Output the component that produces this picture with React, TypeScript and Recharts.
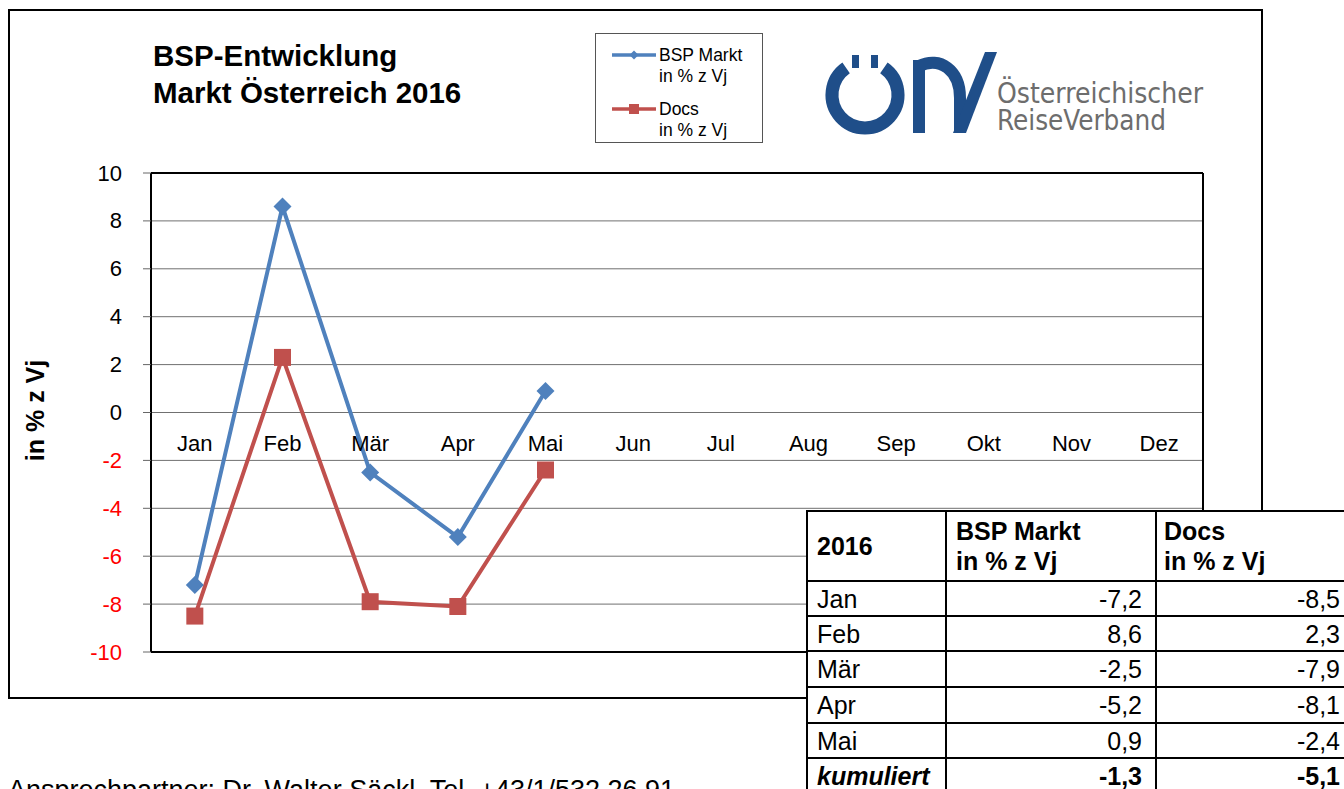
import React from 'react';
import { LineChart, Line, XAxis, YAxis, CartesianGrid, ReferenceLine, Legend } from 'recharts';

const months = ['Jan', 'Feb', 'Mär', 'Apr', 'Mai', 'Jun', 'Jul', 'Aug', 'Sep', 'Okt', 'Nov', 'Dez'];
const bspMarkt: (number | null)[] = [-7.2, 8.6, -2.5, -5.2, 0.9, null, null, null, null, null, null, null];
const docs: (number | null)[] = [-8.5, 2.3, -7.9, -8.1, -2.4, null, null, null, null, null, null, null];
const yTicks = [-10, -8, -6, -4, -2, 0, 2, 4, 6, 8, 10];
const seriesNames = ['BSP Markt', 'Docs'];
const unitLabel = 'in % z Vj';
const kumuliertLabel = 'kumuliert';
const kumuliertValues = [-1.3, -5.1];
const tableYear = '2016';
const titleLines = ['BSP-Entwicklung', 'Markt Österreich 2016'];
const footerText = 'Ansprechpartner: Dr. Walter Säckl, Tel. +43/1/532 26 91';
const logoLines = ['Österreichischer', 'ReiseVerband'];

const data = months.map((m, i) => ({ month: m, bsp: bspMarkt[i], docs: docs[i] }));

const FONT = 'Arial, "Liberation Sans", sans-serif';
const BLUE = '#4F81BD';
const RED = '#C0504D';
const LOGO_BLUE = '#1F4E89';

const CHART_W = 1262;
const CHART_H = 700;
const M_TOP = 173;
const M_BOTTOM = 18;
const X_H = 30;
const Y_W = 151;
const M_RIGHT = 58;
const R_AXIS_W = 1;
const PLOT_H = CHART_H - M_TOP - M_BOTTOM - X_H;
const PLOT_W = CHART_W - Y_W - M_RIGHT - R_AXIS_W;
const ZERO_Y = M_TOP + PLOT_H / 2;
const X_PAD = PLOT_W / months.length / 2;

const fmt = (v: number) => v.toFixed(1).replace('.', ',');

const Diamond = (p: any) => {
  const { cx, cy } = p;
  if (cx == null || cy == null || p.value == null) return <g key={p.index} />;
  const r = 9;
  return <path key={p.index} d={`M${cx},${cy - r}L${cx + r},${cy}L${cx},${cy + r}L${cx - r},${cy}Z`} fill={BLUE} />;
};

const Square = (p: any) => {
  const { cx, cy } = p;
  if (cx == null || cy == null || p.value == null) return <g key={p.index} />;
  const s = 8.5;
  return <rect key={p.index} x={cx - s} y={cy - s} width={s * 2} height={s * 2} fill={RED} />;
};

const YTick = (p: any) => {
  const v = p.payload.value;
  return (
    <text x={p.x} y={p.y} textAnchor="end" dominantBaseline="central" fontFamily={FONT} fontSize={22} fill={v < 0 ? '#FF0000' : '#000'}>
      {String(v)}
    </text>
  );
};

const XTick = (p: any) => (
  <text x={p.x} y={ZERO_Y + 31} textAnchor="middle" dominantBaseline="central" fontFamily={FONT} fontSize={22} fill="#000">
    {p.payload.value}
  </text>
);

const YLabel = (p: any) => {
  const vb = p.viewBox || { x: 0, y: M_TOP, width: Y_W, height: PLOT_H };
  const cx = vb.x + 35;
  const cy = vb.y + vb.height / 2 - 2;
  return (
    <text x={cx} y={cy} transform={`rotate(-90 ${cx} ${cy})`} textAnchor="middle" dominantBaseline="central" fontFamily={FONT} fontSize={25} fontWeight="bold" fill="#000">
      {unitLabel}
    </text>
  );
};

const LegendContent = (props: any) => {
  const payload = props.payload || [];
  return (
    <div style={{ width: 168, height: 110, border: '1px solid #555', background: '#fff', boxSizing: 'border-box' }}>
      <svg width={166} height={108}>
        {payload.map((e: any, i: number) => {
          const y = 21 + i * 54;
          const isBsp = e.dataKey === 'bsp';
          return (
            <g key={i}>
              <line x1={16} x2={60} y1={y} y2={y} stroke={e.color} strokeWidth={3.5} />
              {isBsp ? (
                <path d={`M38,${y - 4.5}L42.5,${y}L38,${y + 4.5}L33.5,${y}Z`} fill={e.color} />
              ) : (
                <rect x={33} y={y - 5} width={10} height={10} fill={e.color} />
              )}
              <text x={63} y={y} dominantBaseline="central" fontFamily={FONT} fontSize={17.5} fill="#000">{e.value}</text>
              <text x={63} y={y + 21} dominantBaseline="central" fontFamily={FONT} fontSize={17.5} fill="#000">{unitLabel}</text>
            </g>
          );
        })}
      </svg>
    </div>
  );
};

const Logo = () => (
  <svg width={420} height={100} style={{ position: 'absolute', left: 800, top: 40 }}>
    {/* ring with gap at top (Ö) */}
    <path d="M 46.1 27.9 A 33 33 0 1 0 83.9 27.9" fill="none" stroke={LOGO_BLUE} strokeWidth={13} />
    <rect x={52} y={15} width={7} height={13} fill={LOGO_BLUE} />
    <rect x={71} y={15} width={7} height={13} fill={LOGO_BLUE} />
    {/* R stem and bowl */}
    <path d="M 119 93 L 119 20" fill="none" stroke={LOGO_BLUE} strokeWidth={12} />
    <path d="M 119 26 C 140 16 160 30 160 58 L 160 93" fill="none" stroke={LOGO_BLUE} strokeWidth={12} />
    {/* V diagonal */}
    <path d="M 153 93 L 166 93 L 197 12 L 185 12 Z" fill={LOGO_BLUE} />
    <text x={197} y={63} fontFamily='"DejaVu Sans Condensed", "DejaVu Sans", sans-serif' fontSize={28} fill="#6d6d6d" textLength={206} lengthAdjust="spacingAndGlyphs">{logoLines[0]}</text>
    <text x={197} y={90} fontFamily='"DejaVu Sans Condensed", "DejaVu Sans", sans-serif' fontSize={28} fill="#6d6d6d" textLength={169} lengthAdjust="spacingAndGlyphs">{logoLines[1]}</text>
  </svg>
);

const TFS = 25;
const cellBase: React.CSSProperties = {
  border: '2px solid #000',
  fontFamily: FONT,
  fontSize: TFS,
  padding: 0,
  lineHeight: '30px',
  whiteSpace: 'nowrap',
  overflow: 'hidden',
};

const rowHeights = [35, 35, 36, 36, 35];

const DataTable = () => {
  const rows = months
    .map((m, i) => ({ m, a: bspMarkt[i], b: docs[i] }))
    .filter((r) => r.a != null && r.b != null);
  return (
    <table style={{ position: 'absolute', left: 806, top: 510, borderCollapse: 'collapse', background: '#fff', tableLayout: 'fixed', width: 560 }}>
      <colgroup>
        <col style={{ width: 139 }} />
        <col style={{ width: 210 }} />
        <col style={{ width: 211 }} />
      </colgroup>
      <tbody>
        <tr style={{ height: 70 }}>
          <td style={{ ...cellBase, fontWeight: 'bold', paddingLeft: 9 }}>{tableYear}</td>
          <td style={{ ...cellBase, fontWeight: 'bold', paddingLeft: 9, verticalAlign: 'middle' }}>
            {seriesNames[0]}<br />{unitLabel}
          </td>
          <td style={{ ...cellBase, fontWeight: 'bold', paddingLeft: 7, verticalAlign: 'middle' }}>
            {seriesNames[1]}<br />{unitLabel}
          </td>
        </tr>
        {rows.map((r, i) => (
          <tr key={r.m} style={{ height: rowHeights[i] || 35 }}>
            <td style={{ ...cellBase, paddingLeft: 9 }}>{r.m}</td>
            <td style={{ ...cellBase, textAlign: 'right', paddingRight: 13 }}>{fmt(r.a as number)}</td>
            <td style={{ ...cellBase, textAlign: 'right', paddingRight: 26 }}>{fmt(r.b as number)}</td>
          </tr>
        ))}
        <tr style={{ height: 36 }}>
          <td style={{ ...cellBase, paddingLeft: 9, fontWeight: 'bold', fontStyle: 'italic' }}>{kumuliertLabel}</td>
          <td style={{ ...cellBase, textAlign: 'right', paddingRight: 13, fontWeight: 'bold' }}>{fmt(kumuliertValues[0])}</td>
          <td style={{ ...cellBase, textAlign: 'right', paddingRight: 26, fontWeight: 'bold' }}>{fmt(kumuliertValues[1])}</td>
        </tr>
      </tbody>
    </table>
  );
};

export default function App() {
  return (
    <div style={{ position: 'absolute', left: 0, top: 0, width: 1344, height: 789, overflow: 'hidden', background: '#fff', fontFamily: FONT }}>
      <div style={{ position: 'absolute', left: 8, top: 9, width: 1255, height: 690, border: '2px solid #000', boxSizing: 'border-box' }} />
      <div style={{ position: 'absolute', left: 153, top: 37, fontFamily: FONT, fontWeight: 'bold', fontSize: 29.5, lineHeight: '37px', color: '#000', whiteSpace: 'nowrap' }}>
        {titleLines[0]}<br />{titleLines[1]}
      </div>
      <Logo />
      <div style={{ position: 'absolute', left: 0, top: 0 }}>
        <LineChart width={CHART_W} height={CHART_H} data={data} margin={{ top: M_TOP, right: M_RIGHT, bottom: M_BOTTOM, left: 0 }}>
          <CartesianGrid vertical={false} stroke="#707070" strokeWidth={1} />
          <XAxis
            dataKey="month"
            height={X_H}
            axisLine={false}
            tickLine={false}
            interval={0}
            padding={{ left: X_PAD, right: X_PAD }}
            tick={(p: any) => <XTick {...p} />}
          />
          <YAxis
            domain={[-10, 10]}
            ticks={yTicks}
            interval={0}
            width={Y_W}
            tickSize={8}
            tickMargin={21}
            axisLine={{ stroke: '#000', strokeWidth: 2 }}
            tickLine={{ stroke: '#666' }}
            tick={(p: any) => <YTick {...p} />}
            label={(p: any) => <YLabel {...p} />}
          />
          <YAxis yAxisId="right" orientation="right" width={R_AXIS_W} domain={[-10, 10]} tick={false} tickLine={false} axisLine={{ stroke: '#000', strokeWidth: 2 }} />
          <ReferenceLine y={10} stroke="#000" strokeWidth={2} />
          <ReferenceLine y={-10} stroke="#000" strokeWidth={2} />
          <Legend
            layout="horizontal"
            verticalAlign="middle"
            align="center"
            wrapperStyle={{ left: 595, top: 33, width: 168, height: 110 }}
            content={(p: any) => <LegendContent {...p} />}
          />
          <Line dataKey="bsp" name={seriesNames[0]} stroke={BLUE} strokeWidth={4} dot={Diamond} activeDot={false} isAnimationActive={false} />
          <Line dataKey="docs" name={seriesNames[1]} stroke={RED} strokeWidth={4} dot={Square} activeDot={false} isAnimationActive={false} />
        </LineChart>
      </div>
      <DataTable />
      <div style={{ position: 'absolute', left: 8, top: 775, fontFamily: FONT, fontSize: 27, whiteSpace: 'nowrap', color: '#000' }}>
        {footerText}
      </div>
    </div>
  );
}
